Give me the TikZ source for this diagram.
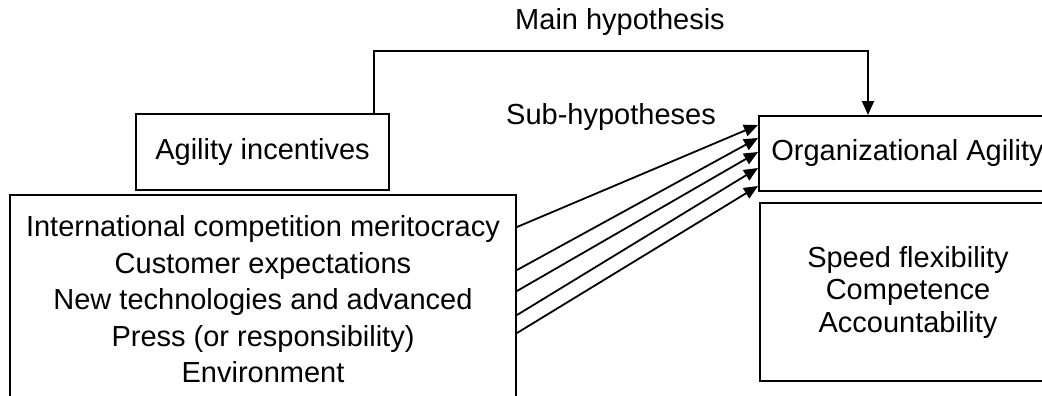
\documentclass[tikz,border=0pt]{standalone}
\usepackage{fontspec}
\setmainfont{Liberation Sans}
\usetikzlibrary{arrows.meta}
\begin{document}
\begin{tikzpicture}[x=1pt,y=-1pt,
  every node/.style={font=\fontsize{29}{36.5}\selectfont, inner sep=0pt},
  box/.style={draw, line width=2pt, rectangle, align=center},
  arr/.style={line width=1.8pt, -{Triangle[length=14pt,width=12pt]}},
  lbl/.style={anchor=center}]
\clip (0,0) rectangle (1042,396);
\node[box, minimum width=253pt, minimum height=76pt] (ai) at (262.5,152) {Agility incentives};
\node[box, minimum width=506pt, minimum height=209pt] (env) at (263,299.5)
  {International competition meritocracy\\Customer expectations\\New technologies and advanced\\Press (or responsibility)\\Environment};
\node[box, minimum width=297pt, minimum height=75pt] (oa) at (907.5,153.5) {Organizational Agility};
\node[box, minimum width=296pt, minimum height=178pt, font=\fontsize{29}{32.5}\selectfont] (sp) at (908,292)
  {Speed flexibility\\Competence\\Accountability};
\node[lbl] (mh) at (620,22) {Main hypothesis};
\node[lbl] (sh) at (611,117) {Sub-hypotheses};
\coordinate (corner) at (868,51);
\draw[arr] ([xshift=-16pt]ai.north east) |- (corner) -- (corner |- oa.north);
\draw[arr] (env.east |- 0,227) -- (oa.west |- 0,125);
\draw[arr] (env.east |- 0,270) -- (oa.west |- 0,138);
\draw[arr] (env.east |- 0,291) -- (oa.west |- 0,152);
\draw[arr] (env.east |- 0,315) -- (oa.west |- 0,168);
\draw[arr] (env.east |- 0,333) -- (oa.west |- 0,186);
\end{tikzpicture}
\end{document}
